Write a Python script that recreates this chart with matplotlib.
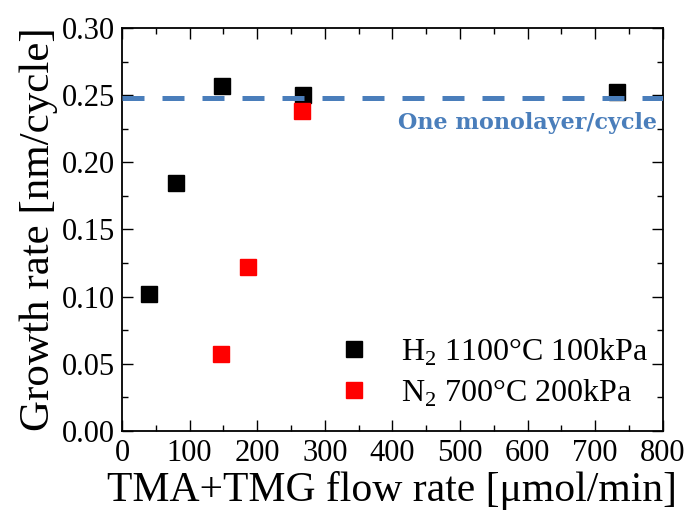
import matplotlib.pyplot as plt
from matplotlib.ticker import MultipleLocator

plt.rcParams['font.family'] = ['Liberation Serif', 'DejaVu Serif']
plt.rcParams['mathtext.fontset'] = 'custom'
plt.rcParams['mathtext.rm'] = 'Liberation Serif'

# H2 1100C 100kPa
h2_flow = [40, 80, 148, 268, 732]
h2_rate = [0.102, 0.1845, 0.257, 0.250, 0.2525]
# N2 700C 200kPa
n2_flow = [147, 186, 267]
n2_rate = [0.0573, 0.1218, 0.2385]

monolayer = 0.248
blue = '#4a7ebb'

fig = plt.figure(figsize=(6.89, 5.18), dpi=100)
ax = fig.add_axes([0.177, 0.168, 0.785, 0.778])

ax.plot(h2_flow, h2_rate, 's', color='black', ms=12, mec='black',
        label=r'H$_2$ 1100°C 100kPa', zorder=3)
ax.plot(n2_flow, n2_rate, 's', color='red', ms=12, mec='red',
        label=r'N$_2$ 700°C 200kPa', zorder=4)
ax.axhline(monolayer, color=blue, lw=3.6, dashes=(4.4, 3.6), zorder=5)
ax.text(792, 0.229, 'One monolayer/cycle', color=blue, ha='right', va='center',
        fontsize=16, fontweight='bold', family='DejaVu Serif')

ax.set_xlim(0, 800)
ax.set_ylim(0, 0.30)
ax.xaxis.set_major_locator(MultipleLocator(100))
ax.xaxis.set_minor_locator(MultipleLocator(50))
ax.yaxis.set_major_locator(MultipleLocator(0.05))
ax.yaxis.set_minor_locator(MultipleLocator(0.025))
ax.yaxis.set_major_formatter(plt.FormatStrFormatter('%.2f'))
ax.tick_params(which='both', direction='in', top=True, right=True, width=1,
               labelsize=22)
ax.tick_params(which='major', length=8)
ax.tick_params(which='minor', length=4.5)
ax.tick_params(axis='x', pad=6)
ax.tick_params(axis='y', pad=5)
for s in ax.spines.values():
    s.set_linewidth(1.3)

ax.set_xlabel('TMA+TMG flow rate [μmol/min]', fontsize=30, labelpad=2)
ax.set_ylabel('Growth rate [nm/cycle]', fontsize=31, labelpad=3)

ax.legend(loc='lower right', bbox_to_anchor=(1.014, 0.0), frameon=False,
          fontsize=23, handletextpad=0.45, labelspacing=0.3, borderaxespad=0.3)

fig.savefig('out.png', dpi=100)
